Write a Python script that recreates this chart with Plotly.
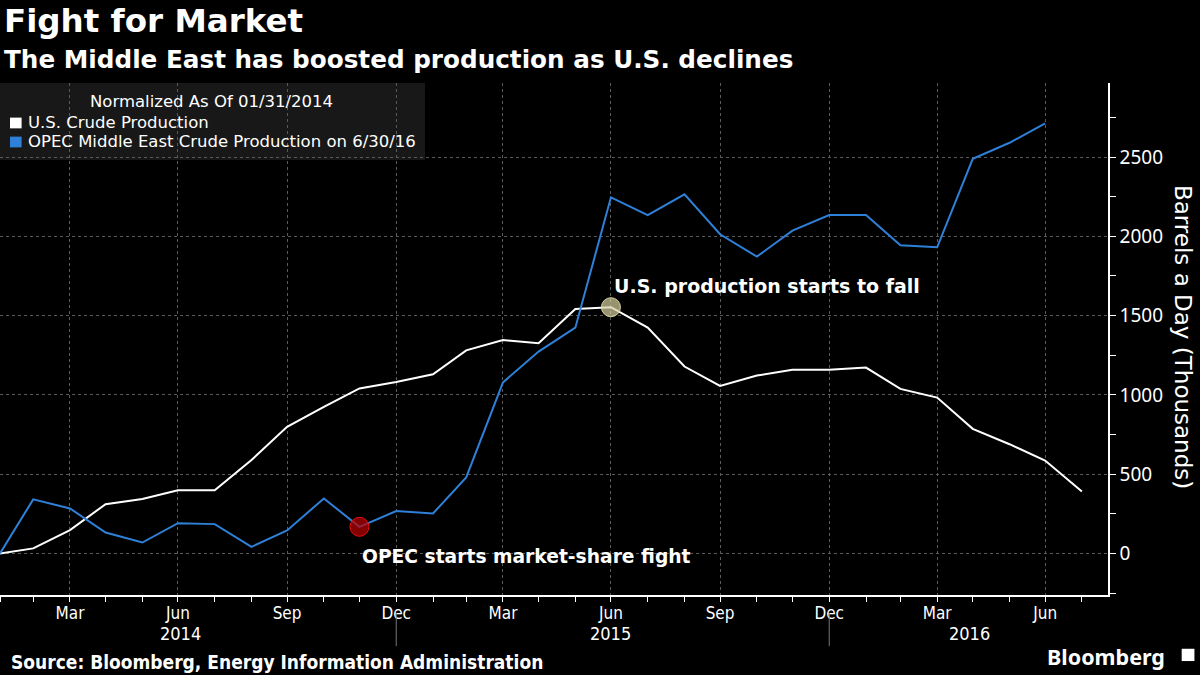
import pandas as pd
import plotly.graph_objects as go

# month-end dates, Jan 2014 .. Jul 2016
months = pd.date_range("2014-01-31", periods=31, freq="ME")

# thousand barrels a day, change since 01/31/2014
us_crude = [0, 32, 147, 311, 343, 398, 398, 589, 799, 925, 1041, 1081,
            1130, 1281, 1346, 1326, 1542, 1553, 1424, 1179, 1057, 1122, 1158, 1158,
            1172, 1038, 983, 786, 689, 586, 391]
opec_me = [0, 341, 284, 132, 69, 191, 185, 42, 145, 347, 168, 267,
           252, 480, 1079, 1273, 1424, 2246, 2134, 2265, 2013, 1872, 2036, 2134,
           2134, 1943, 1931, 2489, 2590, 2712]

tick_dates = ["2014-03-31", "2014-06-30", "2014-09-30", "2014-12-31",
              "2015-03-31", "2015-06-30", "2015-09-30", "2015-12-31",
              "2016-03-31", "2016-06-30"]
tick_text = ["Mar", "Jun", "Sep", "Dec", "Mar", "Jun", "Sep", "Dec", "Mar", "Jun"]

years = ["2014", "2015", "2016"]
year_label_pos = ["2014-07-02", "2015-06-30", "2016-04-27"]
year_breaks = ["2014-12-31", "2015-12-31"]

legend_title = "Normalized As Of 01/31/2014"
legend_names = ["U.S. Crude Production", "OPEC Middle East Crude Production on 6/30/16"]

opec_idx = 10   # Nov 2014
us_idx = 17     # Jun 2015

blue = "#2f80d8"
grid = "#5a5a5a"
narrow = "Liberation Sans Narrow, DejaVu Sans Condensed, sans-serif"
bold = "DejaVu Sans, sans-serif"
plain = "Noto Sans, sans-serif"

fig = go.Figure()

fig.add_trace(go.Scatter(x=months, y=us_crude, mode="lines", name=legend_names[0],
                         line=dict(color="white", width=2), showlegend=False))
fig.add_trace(go.Scatter(x=months[:len(opec_me)], y=opec_me, mode="lines", name=legend_names[1],
                         line=dict(color=blue, width=2), showlegend=False))

# highlight dots
fig.add_trace(go.Scatter(x=[months[opec_idx]], y=[opec_me[opec_idx]], mode="markers",
                         marker=dict(size=19, color="rgba(190,0,0,0.7)",
                                     line=dict(color="#e01010", width=1)),
                         showlegend=False))
fig.add_trace(go.Scatter(x=[months[us_idx]], y=[us_crude[us_idx]], mode="markers",
                         marker=dict(size=19, color="rgba(215,210,160,0.7)",
                                     line=dict(color="#d8d2a0", width=1)),
                         showlegend=False))

ann = []
ann.append(dict(text="<b>Fight for Market</b>", xref="paper", yref="paper", x=0.002, y=1.122,
                xanchor="left", yanchor="middle", showarrow=False,
                font=dict(family=bold, size=32.5, color="white")))
ann.append(dict(text="<b>The Middle East has boosted production as U.S. declines</b>",
                xref="paper", yref="paper", x=0.002, y=1.045, xanchor="left", yanchor="middle",
                showarrow=False, font=dict(family=bold, size=24.7, color="white")))
ann.append(dict(text="<b>OPEC starts market-share fight</b>", x=months[opec_idx], y=-20,
                xanchor="left", yanchor="middle", showarrow=False, xshift=1,
                font=dict(family=bold, size=18.7, color="white")))
ann.append(dict(text="<b>U.S. production starts to fall</b>", x=months[us_idx], y=1687,
                xanchor="left", yanchor="middle", showarrow=False, xshift=1,
                font=dict(family=bold, size=19, color="white")))
ann.append(dict(text="Barrels a Day (Thousands)", xref="paper", yref="paper", x=1.0677, y=0.504,
                textangle=90, xanchor="center", yanchor="middle", showarrow=False,
                font=dict(family=bold, size=23, color="white")))
for yr, pos in zip(years, year_label_pos):
    ann.append(dict(text=yr, x=pos, xref="x", yref="paper", y=-0.076, xanchor="center",
                    yanchor="middle", showarrow=False,
                    font=dict(family=narrow, size=18, color="white")))
ann.append(dict(text="<b>Source: Bloomberg, Energy Information Administration</b>",
                xref="paper", yref="paper", x=0.008, y=-0.131, xanchor="left", yanchor="middle",
                showarrow=False, font=dict(family=narrow, size=19, color="white")))
ann.append(dict(text="<b>Bloomberg</b>", xref="paper", yref="paper", x=1.053, y=-0.12,
                xanchor="right", yanchor="middle", showarrow=False,
                font=dict(family=plain, size=21.5, color="white")))

# legend built by hand: header + square swatches
ann.append(dict(text=legend_title, xref="paper", yref="paper", x=0.1913, y=0.9648,
                xanchor="center", yanchor="middle", showarrow=False,
                font=dict(family=bold, size=16.5, color="white")))
legend_rows = [0.9219, 0.8848]
legend_cols = ["white", blue]
shapes = [dict(type="rect", xref="paper", yref="paper", x0=0, x1=0.3836, y0=0.8496, y1=1.0,
               fillcolor="rgba(30,30,30,0.8)", line=dict(width=0), layer="below")]
for name, row, col in zip(legend_names, legend_rows, legend_cols):
    ann.append(dict(text=name, xref="paper", yref="paper", x=0.0235, y=row,
                    xanchor="left", yanchor="middle", showarrow=False,
                    font=dict(family=bold, size=16.5, color="white")))
    shapes.append(dict(type="rect", xref="paper", yref="paper", x0=0.009, x1=0.0195,
                       y0=row - 0.0105, y1=row + 0.0105, fillcolor=col, line=dict(width=0)))

for yb in year_breaks:
    shapes.append(dict(type="line", xref="x", yref="paper", x0=yb, x1=yb, y0=-0.035, y1=-0.1,
                       line=dict(color="#777777", width=1)))
# little logo box
shapes.append(dict(type="rect", xref="paper", yref="paper", x0=1.0665, x1=1.078,
                   y0=-0.129, y1=-0.105, fillcolor="white", line=dict(width=0)))

fig.update_layout(
    width=1200, height=675,
    paper_bgcolor="black", plot_bgcolor="black",
    margin=dict(l=0, r=92, t=83, b=80),
    annotations=ann, shapes=shapes,
    showlegend=False,
    font=dict(color="white"),
)

fig.update_xaxes(
    type="date", range=["2014-01-31", "2016-08-22"],
    tickvals=tick_dates, ticktext=tick_text,
    ticks="outside", ticklen=5, tickcolor="white", ticklabelstandoff=-3,
    tickfont=dict(family=narrow, size=17, color="white"),
    showgrid=True, gridcolor=grid, griddash="3px,3px", gridwidth=1,
    showline=True, linecolor="white", linewidth=1.5,
    minor=dict(tickvals=list(months), ticks="outside", ticklen=5, tickcolor="white",
               showgrid=False),
    zeroline=False,
)
fig.update_yaxes(
    side="right", range=[-262, 2967], dtick=500, tick0=0,
    ticks="outside", ticklen=6, tickcolor="white",
    tickfont=dict(family=plain, size=19, color="white"),
    showgrid=True, gridcolor=grid, griddash="3px,3px", gridwidth=1,
    showline=True, linecolor="white", linewidth=1.5,
    minor=dict(dtick=250, ticks="outside", ticklen=6, tickcolor="white", showgrid=False),
    zeroline=False,
)

fig.write_html("out.html", config={"displayModeBar": False},
               post_script="document.body.style.margin='0';document.body.style.overflow='hidden';")
